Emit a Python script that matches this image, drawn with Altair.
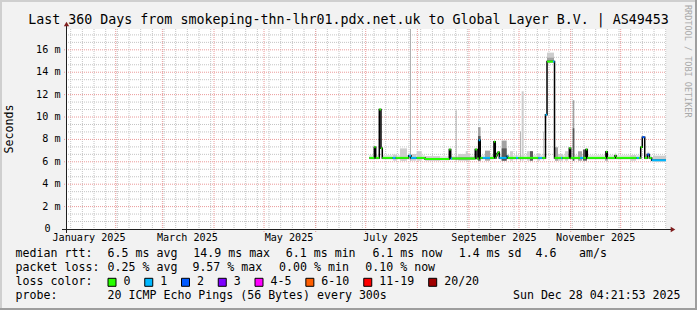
import altair as alt
import pandas as pd

# ---------------- data ----------------
title_text = "Last 360 Days from smokeping-thn-lhr01.pdx.net.uk to Global Layer B.V. | AS49453"
start_time = "2025-01-02 04:21:53"
end_time = "2025-12-28 04:21:53"
y_max = 17.86

# median rtt (ms), step segments starting at med_time, loss class of each
med_time = ["2025-07-03 04:00", "2025-07-06 04:00", "2025-07-07 00:00", "2025-07-09 04:00",
            "2025-07-10 04:00", "2025-07-10 23:00", "2025-07-17 05:00", "2025-07-19 00:00",
            "2025-07-26 19:00", "2025-07-28 04:00", "2025-07-31 14:00", "2025-08-05 14:00",
            "2025-08-20 04:00", "2025-08-21 00:00", "2025-08-21 19:00", "2025-09-04 18:00",
            "2025-09-05 19:00", "2025-09-06 19:00", "2025-09-07 18:00", "2025-09-09 05:00",
            "2025-09-13 14:00", "2025-09-15 23:00", "2025-09-16 18:00", "2025-09-17 04:00",
            "2025-09-17 19:00", "2025-09-18 09:00", "2025-09-19 04:00", "2025-09-23 14:00",
            "2025-09-24 05:00", "2025-09-29 04:00", "2025-09-30 13:00", "2025-10-12 13:00",
            "2025-10-14 23:00", "2025-10-16 21:00", "2025-10-17 19:00", "2025-10-21 09:00",
            "2025-10-22 07:00", "2025-10-26 04:00", "2025-10-26 23:00", "2025-10-31 04:00",
            "2025-11-01 00:00", "2025-11-06 14:00", "2025-11-08 13:00", "2025-11-10 04:00",
            "2025-11-10 23:00", "2025-11-22 04:00", "2025-11-22 23:00", "2025-11-27 14:00",
            "2025-11-28 04:00", "2025-12-10 14:00", "2025-12-11 23:00", "2025-12-13 00:00",
            "2025-12-13 23:00", "2025-12-15 10:00", "2025-12-16 23:00", "2025-12-18 04:00",
            "2025-12-19 14:00"]
med_value = [6.35, 7.3, 6.35, 10.67,
             7.2, 6.35, 6.35, 6.35,
             6.55, 6.35, 6.35, 6.25,
             7.1, 6.3, 6.3, 7.1,
             6.3, 7.93, 6.35, 6.35,
             6.35, 7.8, 6.35, 6.55,
             6.75, 6.85, 6.35, 6.5,
             6.35, 6.35, 6.35, 6.35,
             6.35, 10.2, 14.95, 14.95,
             6.35, 6.35, 6.35, 7.2,
             6.35, 6.35, 6.35, 7.1,
             6.35, 6.9, 6.35, 6.55,
             6.35, 6.35, 6.35, 7.3,
             8.2, 6.35, 6.65, 6.35,
             6.14]
med_loss = ["0", "0", "0", "0",
            "0", "0", "1", "0",
            "1", "1", "0", "0",
            "0", "1", "0", "0",
            "0", "1", "0", "1",
            "0", "0", "0", "0",
            "0", "0", "1", "1",
            "0", "1", "0", "1",
            "0", "1", "0", "1",
            "0", "1", "0", "0",
            "0", "1", "0", "0",
            "0", "0", "0", "0",
            "0", "1", "0", "0",
            "2", "0", "2", "0",
            "1"]

# smoke (spread of the pings)
smoke_start = ["2025-07-17 10:00", "2025-07-21 14:00", "2025-07-22 14:00", "2025-07-27 14:00",
               "2025-07-28 04:00", "2025-07-31 14:00", "2025-08-05 14:00", "2025-08-24 00:00",
               "2025-08-25 10:00", "2025-08-30 00:00", "2025-09-06 10:00", "2025-09-06 10:00",
               "2025-09-10 14:00", "2025-09-20 14:00", "2025-09-20 14:00", "2025-09-25 14:00",
               "2025-09-29 04:00", "2025-10-01 14:00", "2025-10-02 14:00", "2025-10-05 19:00",
               "2025-10-07 14:00", "2025-10-11 19:00", "2025-10-15 09:00", "2025-10-17 19:00",
               "2025-10-17 19:00", "2025-10-22 14:00", "2025-10-22 14:00", "2025-10-28 14:00",
               "2025-11-02 05:00", "2025-11-02 05:00", "2025-11-05 09:00", "2025-11-08 09:00",
               "2025-11-21 14:00", "2025-12-06 14:00", "2025-12-20 09:00"]
smoke_end = ["2025-07-19 19:00", "2025-07-25 19:00", "2025-07-24 14:00", "2025-07-28 02:00",
             "2025-07-31 04:00", "2025-08-03 14:00", "2025-08-14 14:00", "2025-08-24 12:00",
             "2025-09-01 14:00", "2025-08-31 05:00", "2025-09-07 22:00", "2025-09-07 22:00",
             "2025-09-13 14:00", "2025-09-23 14:00", "2025-09-23 14:00", "2025-09-27 09:00",
             "2025-09-29 19:00", "2025-10-02 01:00", "2025-10-03 19:00", "2025-10-08 19:00",
             "2025-10-09 09:00", "2025-10-13 14:00", "2025-10-15 23:00", "2025-10-21 23:00",
             "2025-10-21 23:00", "2025-10-27 09:00", "2025-10-24 09:00", "2025-10-30 09:00",
             "2025-11-03 04:00", "2025-11-03 04:00", "2025-11-07 19:00", "2025-11-10 19:00",
             "2025-11-23 09:00", "2025-12-10 04:00", "2025-12-28 04:00"]
smoke_bottom = [6.1, 6.1, 6.1, 6.1,
                6.1, 6.1, 6.1, 6.1,
                6.1, 6.1, 6.1, 6.1,
                6.1, 6.1, 6.1, 6.1,
                6.1, 6.1, 6.1, 6.1,
                6.1, 6.1, 6.1, 14.9,
                14.9, 6.1, 6.1, 6.1,
                6.1, 6.1, 6.1, 6.1,
                6.1, 6.1, 6.0]
smoke_top = [6.65, 7.2, 6.95, 17.9,
             6.7, 6.95, 6.5, 10.6,
             6.7, 6.95, 9.1, 8.3,
             7.0, 7.9, 7.2, 6.95,
             6.95, 8.7, 12.3, 6.95,
             6.95, 6.75, 8.7, 15.75,
             15.3, 6.7, 7.3, 6.95,
             11.5, 9.0, 6.95, 7.1,
             6.9, 6.6, 6.55]
smoke_shade = ["light", "light", "light", "mid",
               "light", "light", "light", "mid",
               "light", "light", "mid", "dark",
               "mid", "mid", "dark", "light",
               "light", "mid", "light", "light",
               "dark", "light", "light", "light",
               "mid", "light", "mid", "light",
               "mid", "dark", "mid", "dark",
               "mid", "light", "light"]

month_labels = ["January 2025", "March 2025", "May 2025", "July 2025", "September 2025", "November 2025"]
month_label_dates = ["2025-01-16", "2025-03-16", "2025-05-16", "2025-07-16", "2025-09-16", "2025-11-16"]

y_tick_values = [2, 4, 6, 8, 10, 12, 14, 16]
y_tick_labels = ["2 m", "4 m", "6 m", "8 m", "10 m", "12 m", "14 m", "16 m"]
y_zero_label = "0"
y_title = "Seconds"

loss_labels = ["0", "1", "2", "3", "4-5", "6-10", "11-19", "20/20"]
loss_colors = ["#26ff00", "#00b8ff", "#0059ff", "#7e00ff", "#ff00ff", "#ff5e00", "#ff0000", "#a10000"]

rtt_caption = "median rtt:"
rtt_stats = ["6.5 ms avg", "14.9 ms max", "6.1 ms min", "6.1 ms now", "1.4 ms sd", "4.6", "am/s"]
loss_caption = "packet loss:"
loss_stats = ["0.25 % avg", "9.57 % max", "0.00 % min", "0.10 % now"]
color_caption = "loss color:"
probe_caption = "probe:"
probe_text = "20 ICMP Echo Pings (56 Bytes) every 300s"
stamp_text = "Sun Dec 28 04:21:53 2025"
watermark = "RRDTOOL / TOBI OETIKER"

# ---------------- layout constants ----------------
OX, OY = 66, 29          # plot origin in the page
W, H = 600, 200
FONT = "DejaVu Sans Mono"
FS = 11.6                # legend / unit font
AFS = 10.15              # axis label font
BG = "#f2f2f2"

T0 = pd.Timestamp(start_time)
T1 = pd.Timestamp(end_time)


def dd(t):
    return (pd.Timestamp(t) - T0) / pd.Timedelta(days=1)


XS = alt.Scale(domain=[0, 360])
YS = alt.Scale(domain=[0, y_max])
color_of = dict(zip(loss_labels, loss_colors))

# ---------------- tables ----------------
seg = pd.DataFrame({
    "d0": [dd(t) for t in med_time],
    "d1": [dd(t) for t in med_time[1:]] + [dd(T1)],
    "v": med_value,
    "c": [color_of[l] for l in med_loss],
})
line_rows = []
for i, r in seg.iterrows():
    line_rows.append({"d": r.d0, "v": r.v, "o": 2 * i})
    line_rows.append({"d": r.d1, "v": r.v, "o": 2 * i + 1})
line_df = pd.DataFrame(line_rows)

base = seg[seg.v < 6.7].copy()
base["lo"] = base.v - 0.15
base["hi"] = base.v + 0.25

shade_col = {"light": "#cdcdcd", "mid": "#a2a2a2", "dark": "#5a5a5a"}
smoke = pd.DataFrame({
    "d0": [dd(t) for t in smoke_start],
    "d1": [dd(t) for t in smoke_end],
    "lo": smoke_bottom,
    "hi": smoke_top,
    "c": [shade_col[s] for s in smoke_shade],
})
# paint lighter shades first, darker on top
smoke["rank"] = smoke.c.map({"#cdcdcd": 0, "#a2a2a2": 1, "#5a5a5a": 2})
smoke = smoke.sort_values("rank", kind="stable")

week_days = [dd(t) for t in pd.date_range("2025-01-05", "2025-12-28", freq="7D")]
month_days = [dd(t) for t in pd.date_range("2025-02-01", "2025-12-01", freq="MS")]
ymin_vals = [k * 2 / 3 for k in range(1, 27) if k % 3 != 0 and k * 2 / 3 < y_max]

# ---------------- layers ----------------
frame = alt.Chart(pd.DataFrame({
    "x": [-OX, -OX, 697 - OX - 2, -OX],
    "x2": [-OX + 2, 697 - OX, 697 - OX, 697 - OX],
    "y": [-OY, -OY, -OY, 310 - OY - 2],
    "y2": [310 - OY, -OY + 2, 310 - OY, 310 - OY],
    "c": ["#cfcfcf", "#cfcfcf", "#9e9e9e", "#9e9e9e"],
})).mark_rect().encode(
    x=alt.X("x:Q", scale=None), x2="x2", y=alt.Y("y:Q", scale=None), y2="y2",
    color=alt.Color("c:N", scale=None))

grid_y_minor = alt.Chart(pd.DataFrame({"v": ymin_vals})).mark_rule(
    color="#c4c4c4", strokeWidth=1, strokeDash=[1, 1]).encode(
    y=alt.Y("v:Q", scale=YS, axis=None), x=alt.value(0), x2=alt.value(W))
grid_x_minor = alt.Chart(pd.DataFrame({"d": week_days})).mark_rule(
    color="#c4c4c4", strokeWidth=1, strokeDash=[1, 1]).encode(
    x=alt.X("d:Q", scale=XS, axis=None), y=alt.value(0), y2=alt.value(H + 2))
grid_y_major = alt.Chart(pd.DataFrame({"v": y_tick_values})).mark_rule(
    color="#eb9a9a", strokeWidth=1, strokeDash=[1, 1]).encode(
    y=alt.Y("v:Q", scale=YS, axis=None), x=alt.value(-2), x2=alt.value(W))
grid_x_major = alt.Chart(pd.DataFrame({"d": month_days})).mark_rule(
    color="#eb9a9a", strokeWidth=1, strokeDash=[1, 1]).encode(
    x=alt.X("d:Q", scale=XS, axis=None), y=alt.value(0), y2=alt.value(H + 3))

base_smoke = alt.Chart(base).mark_rect(color="#e2e2e2").encode(
    x=alt.X("d0:Q", scale=XS, axis=None), x2="d1",
    y=alt.Y("lo:Q", scale=YS, axis=None), y2="hi")
smoke_layer = alt.Chart(smoke).mark_rect(clip=True).encode(
    x=alt.X("d0:Q", scale=XS, axis=None), x2="d1",
    y=alt.Y("lo:Q", scale=YS, axis=None), y2="hi",
    color=alt.Color("c:N", scale=None), order="rank:Q")

med_black = alt.Chart(line_df).mark_line(color="#000000", strokeWidth=1.5).encode(
    x=alt.X("d:Q", scale=XS, axis=None), y=alt.Y("v:Q", scale=YS, axis=None),
    order="o:Q")
med_color = alt.Chart(seg).mark_rule(strokeWidth=2).encode(
    x=alt.X("d0:Q", scale=XS, axis=None), x2="d1",
    y=alt.Y("v:Q", scale=YS, axis=None),
    color=alt.Color("c:N", scale=None))

axes = alt.Chart(pd.DataFrame({
    "x": [-4, 0.5], "x2": [W + 6, 0.5], "y": [H + 0.5, H + 4], "y2": [H + 0.5, -4]
})).mark_rule(color="#1f1f1f", strokeWidth=1).encode(
    x=alt.X("x:Q", scale=None), x2="x2", y=alt.Y("y:Q", scale=None), y2="y2")
arrows = alt.Chart(pd.DataFrame({
    "x": [W + 7, 0.5], "y": [H + 0.5, -5], "s": ["triangle-right", "triangle-up"]
})).mark_point(filled=True, size=28, opacity=1, color="#801f1f").encode(
    x=alt.X("x:Q", scale=None), y=alt.Y("y:Q", scale=None),
    shape=alt.Shape("s:N", scale=None))


def txt(df, **kw):
    return alt.Chart(df).mark_text(font=FONT, fontSize=kw.pop("fontSize", FS), **kw).encode(
        x=alt.X("x:Q", scale=None), y=alt.Y("y:Q", scale=None), text="t:N")


title = txt(pd.DataFrame({"x": [348.5 - OX], "y": [20 - OY], "t": [title_text]}),
            fontSize=13.3, align="center", baseline="middle")

xlab = alt.Chart(pd.DataFrame({"d": [dd(t) for t in month_label_dates], "t": month_labels})).mark_text(
    font=FONT, fontSize=AFS, align="center", baseline="middle").encode(
    x=alt.X("d:Q", scale=XS, axis=None), y=alt.value(237.7 - OY), text="t:N")
ylab = alt.Chart(pd.DataFrame({"v": y_tick_values, "t": y_tick_labels})).mark_text(
    font=FONT, fontSize=AFS, align="right", baseline="middle").encode(
    y=alt.Y("v:Q", scale=YS, axis=None), x=alt.value(60.5 - OX), text="t:N")
ylab0 = txt(pd.DataFrame({"x": [50.5 - OX], "y": [H], "t": [y_zero_label]}),
            fontSize=AFS, align="right", baseline="middle")
ytitle = txt(pd.DataFrame({"x": [10 - OX], "y": [H / 2], "t": [y_title]}),
             align="center", baseline="middle", angle=270)
wm = txt(pd.DataFrame({"x": [688 - OX], "y": [5 - OY], "t": [watermark]}),
         fontSize=8.5, align="left", baseline="middle", angle=90, color="#a9a9a9")

row_y = [254.3 - OY, 268.3 - OY, 282.3 - OY, 296.3 - OY]
rtt_x = [107.6, 193.3, 285.8, 372.4, 458.7, 535.5, 579.1]
loss_x = [107.6, 192.4, 279.1, 365.3]
leg_rows = [{"x": 15.6 - OX, "y": row_y[0], "t": rtt_caption}]
for xx, t in zip(rtt_x, rtt_stats):
    leg_rows.append({"x": xx - OX, "y": row_y[0], "t": t})
leg_rows.append({"x": 15.6 - OX, "y": row_y[1], "t": loss_caption})
for xx, t in zip(loss_x, loss_stats):
    leg_rows.append({"x": xx - OX, "y": row_y[1], "t": t})
leg_rows.append({"x": 15.6 - OX, "y": row_y[2], "t": color_caption})
leg_rows.append({"x": 15.6 - OX, "y": row_y[3], "t": probe_caption})
leg_rows.append({"x": 107.6 - OX, "y": row_y[3], "t": probe_text})
legend_text = txt(pd.DataFrame(leg_rows), align="left", baseline="middle")
stamp = txt(pd.DataFrame({"x": [680.5 - OX], "y": [row_y[3]], "t": [stamp_text]}),
            align="right", baseline="middle")

# loss colour boxes, laid out one after another
bx, boxes, blabels = 108.0, [], []
for lab, col in zip(loss_labels, loss_colors):
    boxes.append({"x": bx - OX, "x2": bx + 8 - OX, "y": row_y[2] - 4, "y2": row_y[2] + 4, "c": col})
    blabels.append({"x": bx + 15.5 - OX, "y": row_y[2], "t": lab})
    bx += 29.7 + 7.05 * len(lab)
box_layer = alt.Chart(pd.DataFrame(boxes)).mark_rect(stroke="#000000", strokeWidth=1).encode(
    x=alt.X("x:Q", scale=None), x2="x2", y=alt.Y("y:Q", scale=None), y2="y2",
    fill=alt.Fill("c:N", scale=None))
box_text = txt(pd.DataFrame(blabels), align="left", baseline="middle")

chart = alt.layer(
    frame, grid_y_minor, grid_x_minor, grid_y_major, grid_x_major,
    base_smoke, smoke_layer, med_black, med_color,
    axes, arrows, title, xlab, ylab, ylab0, ytitle, wm,
    legend_text, stamp, box_layer, box_text
).properties(
    width=W, height=H,
    autosize=alt.AutoSizeParams(type="none"),
    padding={"left": OX, "top": OY, "right": 697 - OX - W, "bottom": 310 - OY - H},
    background=BG,
).configure_view(fill="#ffffff", stroke=None)

chart.save("out.html", embed_options={"renderer": "svg", "actions": False})
